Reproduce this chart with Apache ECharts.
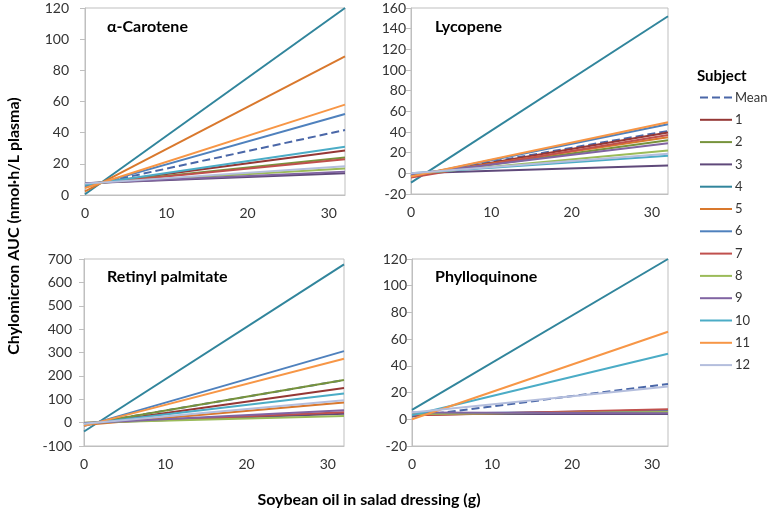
<!DOCTYPE html>
<html>
<head>
<meta charset="utf-8">
<script src="https://cdn.jsdelivr.net/npm/echarts@6/dist/echarts.min.js"></script>
<style>html,body{margin:0;padding:0;background:#fff}#c{width:768px;height:510px}</style>
</head>
<body>
<div id="c"></div>
<script>
// Data
const xValues = [0, 32];
const subjectNames = ['Mean','1','2','3','4','5','6','7','8','9','10','11','12'];
const panelTitles = ['α-Carotene', 'Lycopene', 'Retinyl palmitate', 'Phylloquinone'];
// values at x=0 and at x=32 (order: Mean, 1..12)
const caroteneAt0  = [5.6, 6.6, 6.9, 7.6, 0.5, 2.3, 4.9, 6.9, 7.4, 7.5, 6.4, 4.5, 7.3];
const caroteneAt32 = [41.7, 28.5, 24, 14, 120, 89, 52, 23, 17, 15, 31, 58, 18.5];
const lycopeneAt0  = [-2.5, -3, -2, 0, -9, -2, -3, -4, -1, -1, 0, -3, 0];
const lycopeneAt32 = [41, 39.5, 32, 7.5, 152, 35, 47.5, 37, 22, 29, 17, 49.5, 19];
const retinylAt0   = [-8, -8, -8, -2, -38, -10, -15, -2, -1, -3, -6, -14, -5];
const retinylAt32  = [182, 148, 182, 38, 677, 86, 306, 44, 28, 53, 125, 273, 96];
const phylloAt0    = [2, 3, 4, 4, 7, 4, 4, 3, 4, 5, 3, 0, 5];
const phylloAt32   = [26.5, 7, 5, 4, 120, 6, 6.5, 7.5, 5.5, 4.5, 49, 65.5, 24.5];
// axis ranges
const yMins = [0, -20, -100, -20];
const yMaxs = [120, 160, 700, 120];
const yIntervals = [20, 20, 100, 20];

const colors = ['#4a67a8','#953735','#77933c','#5f497a','#31859c','#d9782d','#4f81bd','#c0504d','#9bbb59','#8064a2','#4bacc6','#f79646','#b4bedd'];
const FONT = 'Lato, "Open Sans", sans-serif';
const panelData = [[caroteneAt0, caroteneAt32],[lycopeneAt0, lycopeneAt32],[retinylAt0, retinylAt32],[phylloAt0, phylloAt32]];
const grids = [
  {left: 85, top: 8, width: 260, height: 187},
  {left: 411, top: 8, width: 257, height: 186},
  {left: 84, top: 259, width: 260, height: 187},
  {left: 412, top: 259, width: 256, height: 187}
];
const yMargins = [16, 5, 12, 5];
const gray = '#bfbfbf';

const series = [];
panelData.forEach((pd, p) => {
  subjectNames.forEach((name, i) => {
    series.push({
      name: name, type: 'line', xAxisIndex: p, yAxisIndex: p,
      symbol: 'none', silent: true, animation: false,
      data: xValues.map((x, k) => [x, pd[k][i]]),
      lineStyle: {color: colors[i], width: 2, type: i === 0 ? [8, 4] : 'solid'},
      itemStyle: {color: colors[i]}
    });
  });
});

const option = {
  animation: false,
  grid: grids.map(g => Object.assign({show: true, borderColor: gray, borderWidth: 1, backgroundColor: 'transparent'}, g)),
  xAxis: grids.map((g, p) => ({
    type: 'value', gridIndex: p, min: 0, max: 32, interval: 10,
    axisLine: {show: true, onZero: false, lineStyle: {color: gray}},
    axisTick: {show: false}, splitLine: {show: false},
    axisLabel: {margin: 11, fontFamily: FONT, fontSize: 14, color: '#333',
      formatter: v => (v % 10 === 0 ? String(v) : '')}
  })),
  yAxis: grids.map((g, p) => ({
    type: 'value', gridIndex: p, min: yMins[p], max: yMaxs[p], interval: yIntervals[p],
    axisLine: {show: true, lineStyle: {color: gray}},
    axisTick: {show: true, length: 5, lineStyle: {color: gray}},
    splitLine: {show: false},
    axisLabel: {margin: yMargins[p], fontFamily: FONT, fontSize: 14, color: '#333'}
  })),
  legend: {
    orient: 'vertical', left: 699, top: 91, padding: 0, itemWidth: 32, itemHeight: 14, itemGap: 9.3,
    itemStyle: {opacity: 0},
    data: subjectNames, textStyle: {fontFamily: FONT, fontSize: 13, color: '#333', padding: [0, 0, 0, -2]}, selectedMode: false
  },
  graphic: [
    {type: 'text', left: 107, top: 19, style: {text: panelTitles[0], font: 'bold 16px ' + FONT, fill: '#000'}},
    {type: 'text', left: 435, top: 19, style: {text: panelTitles[1], font: 'bold 16px ' + FONT, fill: '#000'}},
    {type: 'text', left: 107, top: 269, style: {text: panelTitles[2], font: 'bold 16px ' + FONT, fill: '#000'}},
    {type: 'text', left: 435, top: 269, style: {text: panelTitles[3], font: 'bold 16px ' + FONT, fill: '#000'}},
    {type: 'text', left: 697, top: 69, style: {text: 'Subject', font: 'bold 15px ' + FONT, fill: '#000'}},
    {type: 'text', x: 369, y: 500, style: {text: 'Soybean oil in salad dressing (g)', font: 'bold 16px ' + FONT, fill: '#000', align: 'center', verticalAlign: 'middle'}},
    {type: 'text', x: 14, y: 226, rotation: Math.PI / 2, style: {text: 'Chylomicron AUC (nmol·h/L plasma)', font: 'bold 16px ' + FONT, fill: '#000', align: 'center', verticalAlign: 'middle'}}
  ],
  series: series
};
const chart = echarts.init(document.getElementById('c'), null, {renderer: 'canvas'});
chart.setOption(option);
</script>
</body>
</html>
